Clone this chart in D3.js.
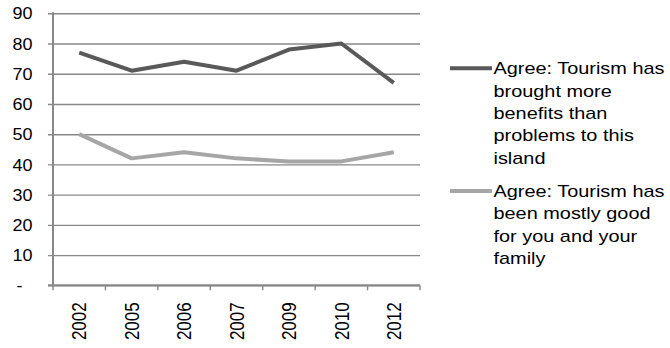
<!DOCTYPE html>
<html>
<head>
<meta charset="utf-8">
<script src="https://cdn.jsdelivr.net/npm/d3@7"></script>
<style>
  html, body { margin: 0; padding: 0; background: #fff; }
  svg { display: block; }
  text { font-family: "Liberation Sans", Arial, sans-serif; fill: #000; }
</style>
</head>
<body>
<svg id="chart" width="670" height="348"></svg>
<script>
// Survey years (categories)
const years = ["2002", "2005", "2006", "2007", "2009", "2010", "2012"];

// Percentage agreeing with each statement
const benefitsValues = [77, 71, 74, 71, 78, 80, 67];
const goodForFamilyValues = [50, 42, 44, 42, 41, 41, 44];

// Y axis ticks and their labels
const yTicks = [0, 10, 20, 30, 40, 50, 60, 70, 80, 90];
const yTickLabels = ["-", "10", "20", "30", "40", "50", "60", "70", "80", "90"];

const seriesNames = [
  ["Agree: Tourism has", "brought more", "benefits than", "problems to this", "island"],
  ["Agree: Tourism has", "been mostly good", "for you and your", "family"]
];

const series = [
  { lines: seriesNames[0], values: benefitsValues, color: "#595959" },
  { lines: seriesNames[1], values: goodForFamilyValues, color: "#a6a6a6" }
];

const svg = d3.select("#chart");
const plotLeft = 53, plotRight = 420, plotTop = 13.3, plotBottom = 285.3;
const fontSize = 17, stretch = 1.17, yStretch = 1.06, lineH = 22.3;
const gridColor = "#888888";

const x = d3.scaleBand().domain(years).range([plotLeft, plotRight]).paddingInner(0).paddingOuter(0);
const y = d3.scaleLinear().domain([0, 90]).range([plotBottom, plotTop]);

// Horizontal gridlines with short ticks to the left of the axis
const yAxis = d3.axisLeft(y).tickValues(yTicks).tickSize(-(plotRight - plotLeft)).tickSizeOuter(0).tickFormat("");
const gy = svg.append("g").attr("transform", `translate(${plotLeft},0)`).call(yAxis);
gy.select(".domain").remove();
gy.selectAll(".tick line").attr("stroke", gridColor).attr("stroke-width", 1.4).attr("x1", -5);

// Y tick labels
svg.append("g").selectAll("text").data(yTicks).join("text")
  .attr("text-anchor", (d, i) => yTickLabels[i] === "-" ? "middle" : "end")
  .attr("font-size", fontSize)
  .attr("transform", (d, i) => `translate(${yTickLabels[i] === "-" ? 19.5 : 32.5},${y(d) + fontSize * 0.36}) scale(${yStretch},1)`)
  .text((d, i) => yTickLabels[i]);

// Vertical axis line
svg.append("line")
  .attr("x1", plotLeft).attr("x2", plotLeft).attr("y1", plotTop - 1).attr("y2", plotBottom + 1)
  .attr("stroke", gridColor).attr("stroke-width", 2);

// X axis with tick marks at band boundaries
const boundaries = years.map(d => x(d)).concat([plotRight]);
svg.append("g").selectAll("line").data(boundaries).join("line")
  .attr("x1", d => d).attr("x2", d => d).attr("y1", plotBottom).attr("y2", plotBottom + 5)
  .attr("stroke", gridColor).attr("stroke-width", 1.4);
svg.append("line")
  .attr("x1", plotLeft - 5).attr("x2", plotRight).attr("y1", plotBottom).attr("y2", plotBottom)
  .attr("stroke", gridColor).attr("stroke-width", 2);

// Rotated year labels
svg.append("g").selectAll("text").data(years).join("text")
  .attr("text-anchor", "end")
  .attr("font-size", fontSize)
  .attr("transform", d => `translate(${x(d) + x.bandwidth() / 2 + fontSize * 0.36 * stretch},${plotBottom + 17}) scale(${stretch},1) rotate(-90)`)
  .text(d => d);

// Series lines
const line = d3.line()
  .x((d, i) => x(years[i]) + x.bandwidth() / 2)
  .y(d => y(d));

series.forEach(s => {
  svg.append("path")
    .datum(s.values)
    .attr("d", line)
    .attr("fill", "none")
    .attr("stroke", s.color)
    .attr("stroke-width", 4)
    .attr("stroke-linejoin", "round");
});

// Legend
const legendLineX1 = 450, legendLineX2 = 492, legendTextX = 493.5;
let baseY = 74.3;
series.forEach(s => {
  const g = svg.append("g");
  g.append("line")
    .attr("x1", legendLineX1).attr("x2", legendLineX2)
    .attr("y1", baseY - 6).attr("y2", baseY - 6)
    .attr("stroke", s.color).attr("stroke-width", 4);
  s.lines.forEach((t, i) => {
    g.append("text")
      .attr("font-size", fontSize)
      .attr("transform", `translate(${legendTextX},${baseY + i * lineH}) scale(${stretch},1)`)
      .text(t);
  });
  baseY += (s.lines.length + 0.5) * lineH;
});
</script>
</body>
</html>
